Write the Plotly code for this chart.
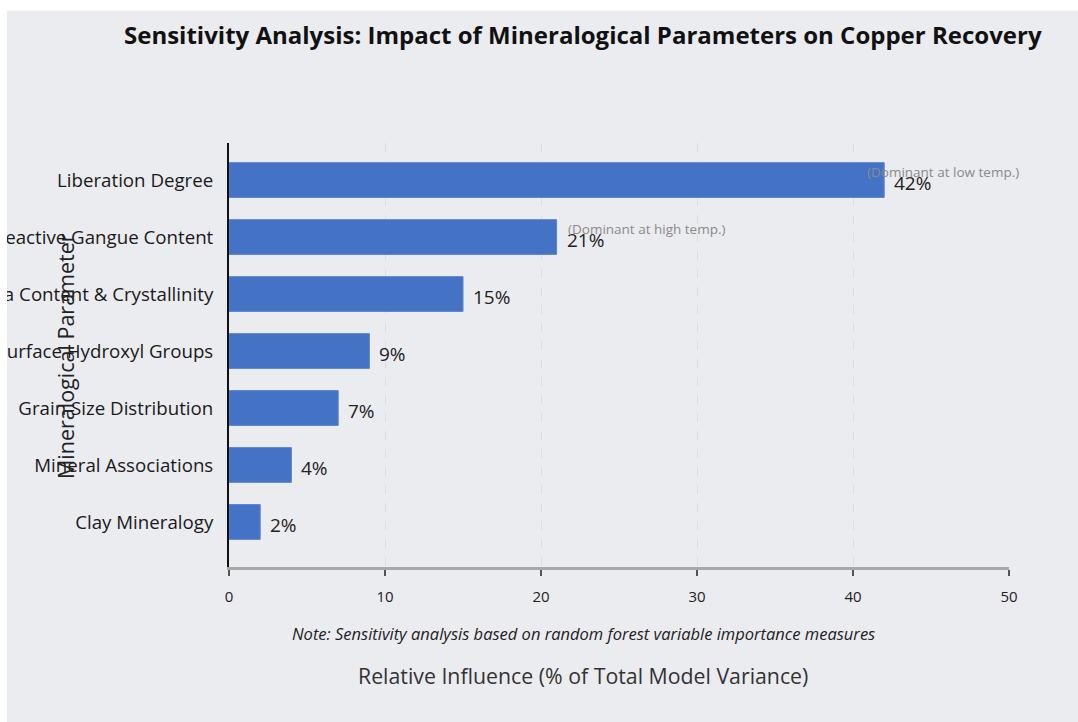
import plotly.graph_objects as go

categories = [
    "Clay Mineralogy",
    "Mineral Associations",
    "Grain Size Distribution",
    "Surface Hydroxyl Groups",
    "Chrysocolla Content & Crystallinity",
    "Reactive Gangue Content",
    "Liberation Degree",
]
influence = [2, 4, 7, 9, 15, 21, 42]
value_labels = [f"{v}%" for v in influence]

notes_cat = ["Liberation Degree", "Reactive Gangue Content"]
notes_text = ["(Dominant at low temp.)", "(Dominant at high temp.)"]
notes_offset = [3.8, 5.8]

x_ticks = [0, 10, 20, 30, 40, 50]

W, H = 1078, 722
ML, MR, MT, MB = 229, 69, 143, 155
PW, PH = W - ML - MR, H - MT - MB
BG = "rgb(235,236,240)"
FONT = "Open Sans"


def px_x(p):
    return (p - ML) / PW


def px_y(p):
    return (H - MB - p) / PH


fig = go.Figure()
fig.add_trace(go.Bar(
    x=influence,
    y=categories,
    orientation="h",
    marker=dict(color="#4472C4", line=dict(color="#5a84cf", width=1)),
    width=0.61,
    showlegend=False,
    hoverinfo="skip",
))

annotations = []
for c, v, t in zip(categories, influence, value_labels):
    annotations.append(dict(
        x=v, y=c, xref="x", yref="y", text=t, showarrow=False,
        xanchor="left", xshift=8, yshift=-3,
        font=dict(family=FONT, size=19, color="#222222"),
    ))
val_map = dict(zip(categories, influence))
for c, t, o in zip(notes_cat, notes_text, notes_offset):
    annotations.append(dict(
        x=val_map[c] + o, y=c, xref="x", yref="y", text=t, showarrow=False,
        xanchor="center", yshift=8,
        font=dict(family=FONT, size=13.5, color="#8a8a8a"),
    ))

# title, axis titles, note
annotations.append(dict(
    x=px_x(583), y=px_y(35), xref="paper", yref="paper",
    text="<b>Sensitivity Analysis: Impact of Mineralogical Parameters on Copper Recovery</b>",
    showarrow=False, xanchor="center", yanchor="middle",
    font=dict(family=FONT, size=24, color="#111111"),
))
annotations.append(dict(
    x=px_x(583), y=px_y(675), xref="paper", yref="paper",
    text="Relative Influence (% of Total Model Variance)",
    showarrow=False, xanchor="center", yanchor="middle",
    font=dict(family=FONT, size=21.3, color="#333333"),
))
annotations.append(dict(
    x=px_x(583), y=px_y(633), xref="paper", yref="paper",
    text="<i>Note: Sensitivity analysis based on random forest variable importance measures</i>",
    showarrow=False, xanchor="center", yanchor="middle",
    font=dict(family=FONT, size=16.5, color="#222222"),
))
annotations.append(dict(
    x=px_x(65), y=px_y(356), xref="paper", yref="paper",
    text="Mineralogical Parameter",
    showarrow=False, xanchor="center", yanchor="middle", textangle=-90,
    font=dict(family=FONT, size=21.5, color="#222222"),
))

shapes = [
    dict(type="rect", xref="paper", yref="paper", layer="above",
         x0=px_x(-5), x1=px_x(7), y0=px_y(H + 5), y1=px_y(-5),
         fillcolor="white", line=dict(width=0)),
    dict(type="rect", xref="paper", yref="paper", layer="above",
         x0=px_x(-5), x1=px_x(W + 5), y0=px_y(11), y1=px_y(-5),
         fillcolor="white", line=dict(width=0)),
]

fig.update_layout(
    width=W, height=H,
    margin=dict(l=ML, r=MR, t=MT, b=MB, pad=0),
    paper_bgcolor=BG, plot_bgcolor=BG,
    font=dict(family=FONT, size=16, color="#222222"),
    annotations=annotations,
    shapes=shapes,
    bargap=0.39,
)
fig.update_xaxes(
    range=[0, 50], tickvals=x_ticks, ticktext=[str(t) for t in x_ticks],
    showline=True, linecolor="#a8a8a8", linewidth=3,
    ticks="outside", ticklen=6, tickwidth=2, tickcolor="#555555",
    showgrid=True, gridcolor="#dcdde2", griddash="dash", gridwidth=1,
    zeroline=False, automargin=False,
    ticklabelstandoff=8,
    tickfont=dict(family=FONT, size=15, color="#222222"),
)
fig.update_yaxes(
    categoryorder="array", categoryarray=categories,
    range=[-0.79, 6.65],
    showline=True, linecolor="#111111", linewidth=2,
    ticks="", showgrid=False, zeroline=False, automargin=False,
    ticklabelstandoff=10,
    tickfont=dict(family=FONT, size=18.7, color="#1a1a1a"),
)

fig.write_html("out.html")
